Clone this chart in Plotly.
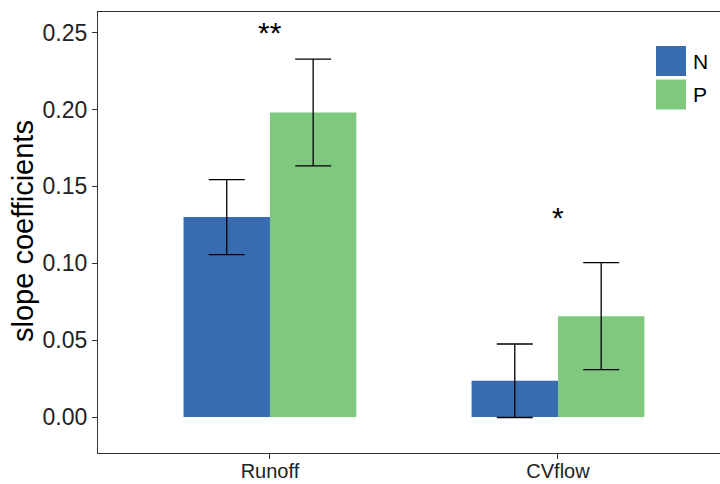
import plotly.graph_objects as go

categories = ["Runoff", "CVflow"]
groups = ["N", "P"]
n_values = [0.130, 0.0236]
n_errors = [0.0244, 0.0239]
p_values = [0.198, 0.0656]
p_errors = [0.0347, 0.0348]
sig_labels = ["**", "*"]
sig_heights = [0.2539, 0.1338]
y_ticks = [0.00, 0.05, 0.10, 0.15, 0.20, 0.25]
y_ticklabels = ["0.00", "0.05", "0.10", "0.15", "0.20", "0.25"]

colors = {"N": "#386CB0", "P": "#7FC97F"}
FONT = "Liberation Sans, Arial, sans-serif"

W, H = 720, 484
L, R, T, B = 98, 0, 12, 31

fig = go.Figure()
for name, vals, errs in [("N", n_values, n_errors), ("P", p_values, p_errors)]:
    fig.add_trace(go.Bar(
        x=categories, y=vals, name=name,
        marker=dict(color=colors[name], line=dict(width=0)),
        error_y=dict(type="data", array=errs, visible=True,
                     color="black", thickness=1.3, width=18),
        showlegend=False,
    ))

for lab, cat, h in zip(sig_labels, categories, sig_heights):
    fig.add_annotation(x=cat, y=h, text=lab, showarrow=False,
                       font=dict(family=FONT, size=30, color="black"),
                       yanchor="middle", yshift=-6)

def px_x(px):
    return (px - L) / (W - L - R)

def px_y(py):
    return (H - B - py) / (H - T - B)

# legend (manual, large keys as in reference)
for i, g in enumerate(groups):
    y0 = 45.5 + i * 33.5
    fig.add_shape(type="rect", xref="paper", yref="paper",
                  x0=px_x(655.5), x1=px_x(686.5), y0=px_y(y0 + 31), y1=px_y(y0),
                  fillcolor=colors[g], line=dict(color="white", width=1))
    fig.add_annotation(xref="paper", yref="paper", x=px_x(691), y=px_y(y0 + 15.5),
                       text=g, showarrow=False, xanchor="left", yanchor="middle",
                       font=dict(family=FONT, size=21, color="black"))

# y axis title
fig.add_annotation(xref="paper", yref="paper", x=px_x(23), y=px_y(231),
                   text="slope coefficients", textangle=-90, showarrow=False,
                   xanchor="center", yanchor="middle",
                   font=dict(family=FONT, size=29, color="black"))

fig.update_layout(
    width=W, height=H,
    margin=dict(l=L, r=R, t=T, b=B, autoexpand=False),
    plot_bgcolor="white", paper_bgcolor="white",
    barmode="group", bargap=0.4, bargroupgap=0,
    font=dict(family=FONT),
)
fig.update_xaxes(
    type="category", range=[-0.597, 1.5625],
    showline=True, linecolor="#333333", linewidth=1.2, mirror=True,
    ticks="outside", ticklen=5, tickcolor="#333333", tickwidth=1.2,
    tickfont=dict(family=FONT, size=20, color="#222222"),
    showgrid=False, zeroline=False, automargin=False,
)
try:
    fig.update_xaxes(ticklabelstandoff=-5)
except Exception:
    pass
fig.update_yaxes(
    range=[-0.0234, 0.2634],
    tickvals=y_ticks, ticktext=y_ticklabels,
    showline=True, linecolor="#333333", linewidth=1.2,
    ticks="outside", ticklen=5, tickcolor="#333333", tickwidth=1.2,
    tickfont=dict(family=FONT, size=23, color="#222222"),
    showgrid=False, zeroline=False, automargin=False,
)

fig.write_html("out.html")
